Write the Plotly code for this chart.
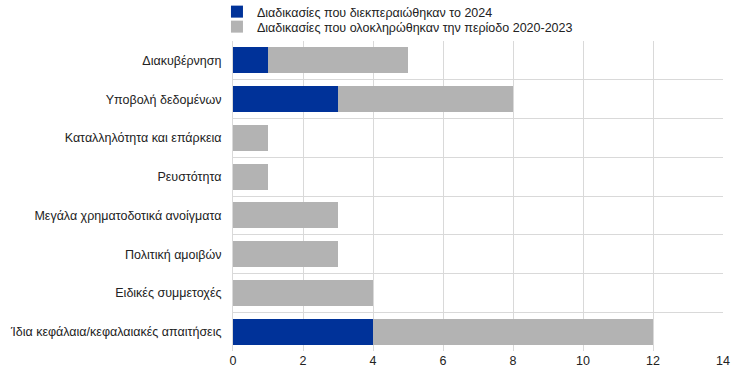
import plotly.graph_objects as go

categories = [
    "Διακυβέρνηση",
    "Υποβολή δεδομένων",
    "Καταλληλότητα και επάρκεια",
    "Ρευστότητα",
    "Μεγάλα χρηματοδοτικά ανοίγματα",
    "Πολιτική αμοιβών",
    "Ειδικές συμμετοχές",
    "Ίδια κεφάλαια/κεφαλαιακές απαιτήσεις",
]
series_2024 = [1, 3, 0, 0, 0, 0, 0, 4]
series_2020_2023 = [4, 5, 1, 1, 3, 3, 4, 8]
name_2024 = "Διαδικασίες που διεκπεραιώθηκαν το 2024"
name_2020_2023 = "Διαδικασίες που ολοκληρώθηκαν την περίοδο 2020-2023"
x_ticks = [0, 2, 4, 6, 8, 10, 12, 14]

fig = go.Figure()
fig.add_trace(go.Bar(y=categories, x=series_2024, orientation="h", name=name_2024,
                     legend="legend", showlegend=True,
                     marker=dict(color="#003299", line=dict(width=0))))
fig.add_trace(go.Bar(y=categories, x=series_2020_2023, orientation="h", name=name_2020_2023,
                     legend="legend2", showlegend=True,
                     marker=dict(color="#b3b3b3", line=dict(width=0))))

leg_common = dict(orientation="v", xref="paper", yref="paper", x=-16 / 489,
                  xanchor="left", yanchor="top", font=dict(size=12.5),
                  bgcolor="rgba(0,0,0,0)", borderwidth=0, visible=True)

fig.update_layout(
    width=744, height=378,
    showlegend=True,
    barmode="stack",
    bargap=0.33,
    plot_bgcolor="white",
    paper_bgcolor="white",
    font=dict(family="Liberation Sans, Arial, sans-serif", size=12.5, color="#222222"),
    margin=dict(l=233, r=21, t=41, b=27, autoexpand=False),
    legend=dict(y=(351 + 3) / 310, **leg_common),
    legend2=dict(y=(351 - 12) / 310, **leg_common),
    xaxis=dict(range=[0, 14], tickvals=x_ticks, showgrid=True, gridcolor="#d9d9d9",
               gridwidth=1, zeroline=False, showline=False, ticks="", ticklen=0),
    yaxis=dict(categoryorder="array", categoryarray=categories, autorange="reversed",
               tickson="boundaries", showgrid=True, gridcolor="#d9d9d9", gridwidth=1,
               showline=True, linecolor="#d9d9d9", ticks="", ticklen=0,
               ticklabelstandoff=8),
)

fig.write_html("out.html")
